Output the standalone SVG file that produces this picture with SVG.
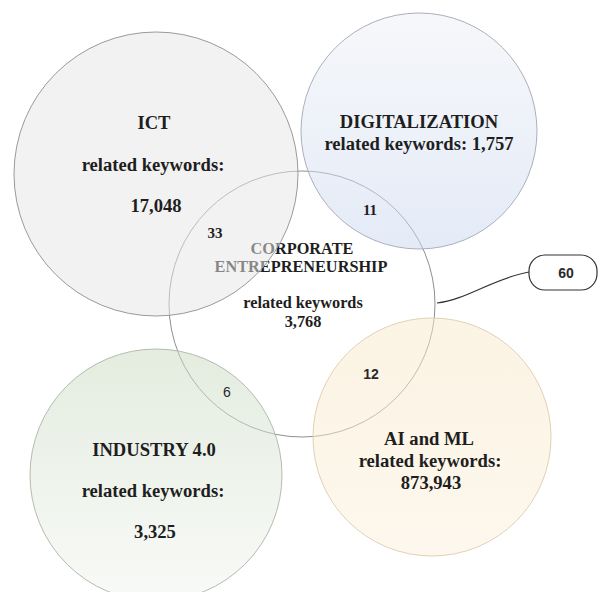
<svg xmlns="http://www.w3.org/2000/svg" width="598" height="592" viewBox="0 0 598 592">
<defs>
<linearGradient id="gDig" x1="0" y1="0" x2="0" y2="1">
<stop offset="0" stop-color="#eef0f5"/><stop offset="1" stop-color="#c9d7ef"/>
</linearGradient>
<linearGradient id="gInd" x1="0" y1="0" x2="0" y2="1">
<stop offset="0" stop-color="#c8dac0"/><stop offset="1" stop-color="#f3f5f1"/>
</linearGradient>
<linearGradient id="gAi" x1="0" y1="0" x2="0" y2="1">
<stop offset="0" stop-color="#f8e8c8"/><stop offset="1" stop-color="#fbf0dc"/>
</linearGradient>
<style>
.t{font-family:"Liberation Serif","Times New Roman",serif;font-weight:bold;fill:#1e1e1e;text-anchor:middle;font-size:18.6px}
.ce{font-size:16.3px}
.n{font-size:15px}
.s{font-family:"Liberation Sans",Arial,sans-serif;text-anchor:middle;fill:#2a2a2a;font-size:14px}
.c{stroke-width:1}
</style>
</defs>
<rect width="598" height="592" fill="#ffffff"/>
<g id="corporate-entrepreneurship">
<circle cx="302" cy="304" r="133" fill="none" stroke="#8f8f8f" stroke-width="1"/>
<text class="t ce" x="302" y="254">CORPORATE</text>
<text class="t ce" x="301" y="272">ENTREPRENEURSHIP</text>
<text class="t ce" x="303" y="308">related keywords</text>
<text class="t ce" x="303" y="327">3,768</text>
</g>
<g id="ict">
<circle class="c" cx="156" cy="174" r="142" fill="#e6e6e6" fill-opacity="0.52" stroke="#9a9a9a"/>
<text class="t" x="154" y="129">ICT</text>
<text class="t" x="153" y="171">related keywords:</text>
<text class="t" x="156" y="212">17,048</text>
</g>
<g id="digitalization">
<circle class="c" cx="419" cy="131" r="118" fill="url(#gDig)" fill-opacity="0.5" stroke="#aab0bc"/>
<text class="t" x="419" y="128">DIGITALIZATION</text>
<text class="t" x="419" y="150">related keywords: 1,757</text>
</g>
<g id="industry-4-0">
<circle class="c" cx="156" cy="475" r="126" fill="url(#gInd)" fill-opacity="0.5" stroke="#b4bcae"/>
<text class="t" x="154" y="456">INDUSTRY 4.0</text>
<text class="t" x="153" y="497">related keywords:</text>
<text class="t" x="155" y="538">3,325</text>
</g>
<g id="ai-and-ml">
<circle class="c" cx="432" cy="437" r="119" fill="url(#gAi)" fill-opacity="0.5" stroke="#e0d2b4"/>
<text class="t" x="429" y="445">AI and ML</text>
<text class="t" x="430" y="467">related keywords:</text>
<text class="t" x="431" y="489">873,943</text>
</g>
<g id="overlap-labels">
<text class="t n" x="215" y="238">33</text>
<text class="t n" x="370" y="215">11</text>
<text class="s" x="371" y="379" font-weight="bold">12</text>
<text class="s" x="227" y="397" fill="#444">6</text>
</g>
<g id="connectors">
<path d="M437,303 C466,300 494,278 529,272" fill="none" stroke="#333" stroke-width="1.2"/>
</g>
<g id="total-60">
<rect x="529" y="255" width="68" height="35" rx="16" fill="#ffffff" stroke="#333" stroke-width="1.2"/>
<text class="s" x="566" y="278" font-weight="bold" font-size="15">60</text>
</g>
</svg>
